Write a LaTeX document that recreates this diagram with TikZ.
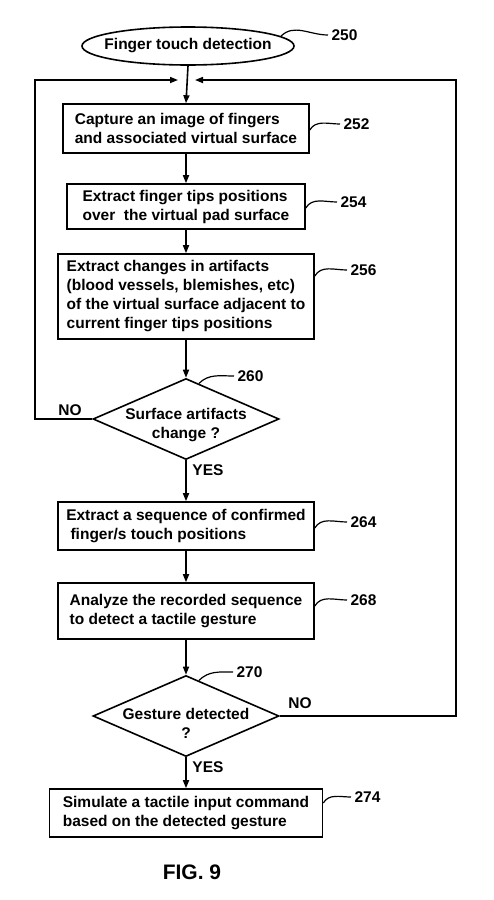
\documentclass[tikz,border=0pt]{standalone}
\usepackage{fontspec}
\setmainfont{Liberation Sans}
\usetikzlibrary{shapes.geometric,arrows.meta,positioning}

\begin{document}
\begin{tikzpicture}[x=1pt,y=-1pt,
  every node/.style={font=\bfseries\fontsize{15.5}{19}\selectfont},
  stepbox/.style={draw,line width=1.6pt,align=left,inner sep=0pt},
  test/.style={draw,diamond,line width=1.6pt,inner sep=0pt,minimum width=186pt,minimum height=81pt},
  tag/.style={anchor=west},
  lead/.style={line width=1.2pt},
  arr/.style={line width=1.6pt,-{Triangle[length=8pt,width=6pt]}}]
\useasboundingbox (0,0) rectangle (493,900);

\node[draw,ellipse,line width=1.6pt,inner xsep=-9pt,inner ysep=0pt,minimum width=212pt,minimum height=38pt] (s250) at (188,46) {Finger touch detection};
\node[stepbox,minimum width=246pt,minimum height=49pt] (s252) at (186,128.5) {Capture an image of fingers\\and associated virtual surface};
\node[stepbox,minimum width=238pt,minimum height=45pt] (s254) at (186,206.5) {Extract finger tips positions\\over\ \ the virtual pad surface};
\node[stepbox,minimum width=256pt,minimum height=85pt] (s256) at (186,296.5) {Extract changes in artifacts\\(blood vessels, blemishes, etc)\\of the virtual surface adjacent to\\current finger tips positions};
\node[test,label={[align=center,yshift=-6pt]center:Surface artifacts\\change ?}] (s260) at (186,419) {};
\node[stepbox,minimum width=256pt,minimum height=48pt] (s264) at (186,526) {Extract a sequence of confirmed\\\ finger/s touch positions};
\node[test,label={[align=center,yshift=-7pt]center:Gesture detected\\?}] (s270) at (186,716) {};
\node[stepbox,minimum width=256pt,minimum height=56pt] (s268) at (186,611) {Analyze the recorded sequence\\to detect a tactile gesture};
\node[stepbox,minimum width=273pt,minimum height=48pt] (s274) at (186,813) {Simulate a tactile input command\\based on the detected gesture};

\coordinate (jl) at (178,80);
\coordinate (jr) at (195,80);
\coordinate (ul) at (35,80);
\coordinate (ur) at (456,80);

\foreach \a/\b in {250/252,252/254,254/256,256/260,260/264,264/268,268/270,270/274} {
\draw[arr] (s\a.south) -- (s\b.north);
}
\draw[arr] (s260.west) -| (ul) -- (jl);
\draw[arr] (s270.east) -| (ur) -- (jr);

\node (no1) at (70,410) {NO};
\node (yes1) at (208,470) {YES};
\node (no2) at (300,703) {NO};
\node (yes2) at (208,767) {YES};

\foreach \n/\x/\y in {250/328/35,252/340/124,254/337/202,256/347/270,260/234/376,264/347/522,268/347/600,270/233/672,274/351/797} {
\node[tag] (l\n) at (\x,\y) {\n};
}

\draw[lead] (s250.6) to[out=45,in=180] (l250.west);
\draw[lead] (s260.70) to[out=45,in=180] (l260.west);
\draw[lead] (s270.70) to[out=45,in=180] (l270.west);
\foreach \n in {252,254,256,264,268,274} {
\draw[lead] ([yshift=-6pt]s\n.east |- l\n.west) to[out=60,in=180] (l\n.west);
}

\node[font=\bfseries\fontsize{21}{25}\selectfont] (fig) at (192,872) {FIG. 9};
\end{tikzpicture}
\end{document}
